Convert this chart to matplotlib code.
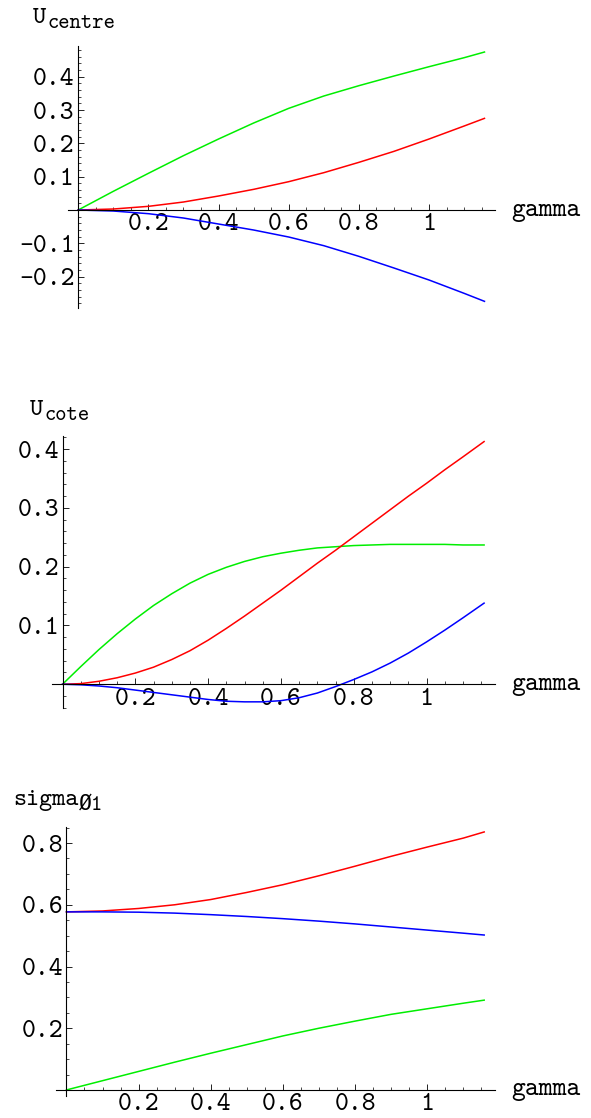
import numpy as np
import matplotlib
matplotlib.use("Agg")
import matplotlib.pyplot as plt
from matplotlib.ticker import MultipleLocator, FuncFormatter

plt.rcParams['font.family'] = ['cmtt10', 'DejaVu Sans Mono']
plt.rcParams['axes.unicode_minus'] = False

# Data
gamma = [0, 0.1, 0.2, 0.3, 0.4, 0.5, 0.6, 0.7, 0.8, 0.9, 1.0, 1.1, 1.158]

# U centre
uc_green = [0, 0.056, 0.110, 0.163, 0.213, 0.261, 0.305, 0.342, 0.373, 0.402, 0.430, 0.457, 0.474]
uc_red = [0, 0.003, 0.011, 0.024, 0.042, 0.062, 0.085, 0.112, 0.143, 0.176, 0.213, 0.252, 0.275]
uc_blue = [0, -0.003, -0.011, -0.024, -0.042, -0.060, -0.081, -0.107, -0.139, -0.174, -0.210, -0.250, -0.274]

# U cote
gamma2 = [0, 0.05, 0.1, 0.15, 0.2, 0.25, 0.3, 0.35, 0.4, 0.45, 0.5, 0.55, 0.6,
          0.65, 0.7, 0.75, 0.8, 0.85, 0.9, 0.95, 1.0, 1.05, 1.1, 1.158]
ucote_green = [0, 0.030, 0.059, 0.086, 0.111, 0.134, 0.154, 0.172, 0.187, 0.199, 0.209, 0.217, 0.223,
               0.228, 0.232, 0.234, 0.236, 0.237, 0.238, 0.238, 0.238, 0.238, 0.237, 0.237]
ucote_red = [0, 0.001, 0.005, 0.011, 0.019, 0.029, 0.042, 0.057, 0.075, 0.095, 0.116, 0.138, 0.160,
             0.183, 0.206, 0.228, 0.251, 0.274, 0.297, 0.320, 0.342, 0.365, 0.387, 0.413]
ucote_blue = [0, -0.001, -0.003, -0.006, -0.010, -0.014, -0.018, -0.022, -0.026, -0.029, -0.030, -0.030, -0.028,
              -0.023, -0.015, -0.004, 0.008, 0.021, 0.036, 0.053, 0.072, 0.092, 0.113, 0.138]

# sigma 01
sig_red = [0.577, 0.580, 0.588, 0.600, 0.617, 0.640, 0.665, 0.694, 0.725, 0.757, 0.787, 0.816, 0.836]
sig_blue = [0.577, 0.577, 0.576, 0.573, 0.568, 0.562, 0.555, 0.547, 0.538, 0.528, 0.518, 0.508, 0.502]
sig_green = [0, 0.030, 0.060, 0.090, 0.119, 0.147, 0.175, 0.200, 0.223, 0.245, 0.263, 0.281, 0.291]

W, H = 591, 1118
fig = plt.figure(figsize=(W / 100, H / 100), dpi=100)

GREEN, RED, BLUE = '#00ee00', '#ff0000', '#0000ff'
fs = 19


def fmt(v, pos):
  if abs(v) < 1e-9:
    return ''
  return '%g' % round(v, 3)


def panel(box, xlim, ylim, ymaj, ymin):
  # box in pixels: left, top, right, bottom
  l, t, r, b = box
  ax = fig.add_axes([l / W, 1 - b / H, (r - l) / W, (b - t) / H])
  ax.set_xlim(xlim)
  ax.set_ylim(ylim)
  for s in ['top', 'right']:
    ax.spines[s].set_visible(False)
  for s in ['left', 'bottom']:
    ax.spines[s].set_position(('data', 0))
    ax.spines[s].set_linewidth(0.8)
  ax.xaxis.set_major_locator(MultipleLocator(0.2))
  ax.xaxis.set_minor_locator(MultipleLocator(0.05))
  ax.yaxis.set_major_locator(MultipleLocator(ymaj))
  ax.yaxis.set_minor_locator(MultipleLocator(ymin))
  ax.xaxis.set_major_formatter(FuncFormatter(fmt))
  ax.yaxis.set_major_formatter(FuncFormatter(fmt))
  ax.tick_params(which='major', direction='in', length=4, width=0.6, labelsize=fs)
  ax.tick_params(which='minor', direction='in', length=2.5, width=0.5)
  ax.tick_params(axis='x', which='major', pad=2.5)
  ax.tick_params(axis='y', which='major', pad=2.5)
  ax.annotate('gamma', xy=(1, 0), xycoords=('axes fraction', 'data'), xytext=(16, -5.5),
              textcoords='offset pixels', va='baseline', ha='left', fontsize=fs)
  return ax


def title(x, y, main, sub):
  t = fig.text(x / W, 1 - y / H, main, fontsize=18, va='baseline', ha='left')
  fig.canvas.draw()
  bb = t.get_window_extent()
  fig.text((bb.x1 + 1) / W, 1 - (y + 5) / H, sub, fontsize=15.5, va='baseline', ha='left')


ax1 = panel((68, 45.7, 495, 308), (-0.029, 1.188), (-0.294, 0.493), 0.1, 0.02)
ax1.plot(gamma, uc_green, color=GREEN, lw=1.1)
ax1.plot(gamma, uc_red, color=RED, lw=1.1)
ax1.plot(gamma, uc_blue, color=BLUE, lw=1.1)
title(33, 23.3, 'U', 'centre')

ax2 = panel((52, 435.7, 495, 708.3), (-0.029, 1.188), (-0.041, 0.423), 0.1, 0.02)
ax2.plot(gamma2, ucote_green, color=GREEN, lw=1.1)
ax2.plot(gamma2, ucote_red, color=RED, lw=1.1)
ax2.plot(gamma2, ucote_blue, color=BLUE, lw=1.1)
title(30, 415, 'U', 'cote')

ax3 = panel((56, 826.7, 495, 1095.5), (-0.029, 1.188), (-0.018, 0.853), 0.2, 0.05)
ax3.plot(gamma, sig_red, color=RED, lw=1.1)
ax3.plot(gamma, sig_blue, color=BLUE, lw=1.1)
ax3.plot(gamma, sig_green, color=GREEN, lw=1.1)
title(13, 805, 'sigma', 'Ø1')

fig.savefig('out.png', dpi=100)
